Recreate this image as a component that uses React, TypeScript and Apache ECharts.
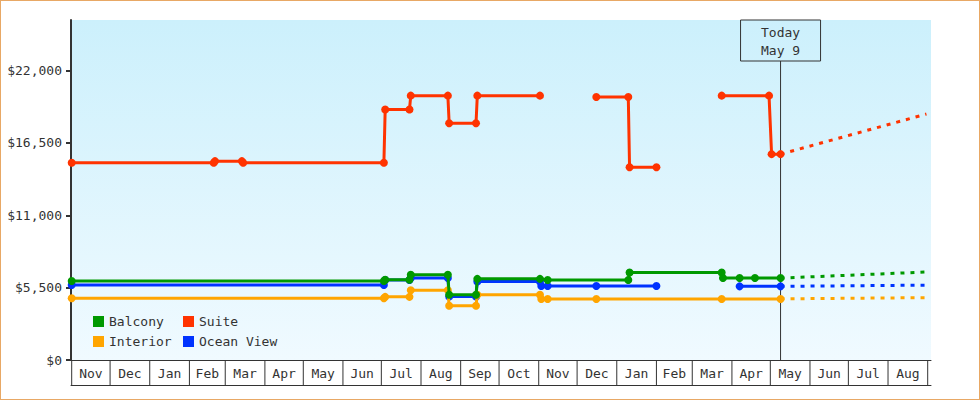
import React, { useEffect, useRef } from 'react';
import * as echarts from 'echarts';

const FONT = 'DejaVu Sans Mono';
const TEXT_COLOR = '#333333';

// ---- axis data ----
const monthStarts = [
  '2013-11-01', '2013-12-01', '2014-01-01', '2014-02-01', '2014-03-01', '2014-04-01',
  '2014-05-01', '2014-06-01', '2014-07-01', '2014-08-01', '2014-09-01', '2014-10-01',
  '2014-11-01', '2014-12-01', '2015-01-01', '2015-02-01', '2015-03-01', '2015-04-01',
  '2015-05-01', '2015-06-01', '2015-07-01', '2015-08-01', '2015-09-01',
];
const monthLabels = [
  'Nov', 'Dec', 'Jan', 'Feb', 'Mar', 'Apr', 'May', 'Jun', 'Jul', 'Aug', 'Sep',
  'Oct', 'Nov', 'Dec', 'Jan', 'Feb', 'Mar', 'Apr', 'May', 'Jun', 'Jul', 'Aug',
];
const yTicks = [0, 5500, 11000, 16500, 22000];
const yMax = 25850;
const todayDate = '2015-05-09';
const todayLabel = 'Today\nMay 9';

// ---- series data (null = gap) ----
const suitePrices: [string, number | null][] = [
  ['2013-11-01', 15000], ['2014-02-20', 15000], ['2014-02-21', 15120], ['2014-03-14', 15120],
  ['2014-03-15', 15000], ['2014-07-03', 15000], ['2014-07-04', 19050], ['2014-07-23', 19050],
  ['2014-07-24', 20100], ['2014-08-22', 20100], ['2014-08-23', 18000], ['2014-09-13', 18000],
  ['2014-09-14', 20100], ['2014-11-02', 20100], ['2014-11-20', null],
  ['2014-12-16', 20000], ['2015-01-10', 20000], ['2015-01-11', 14650], ['2015-02-01', 14650],
  ['2015-03-01', null],
  ['2015-03-24', 20100], ['2015-04-30', 20100], ['2015-05-02', 15650], ['2015-05-09', 15650],
];
const balconyPrices: [string, number | null][] = [
  ['2013-11-01', 6000], ['2014-07-03', 6000], ['2014-07-04', 6100], ['2014-07-23', 6100],
  ['2014-07-24', 6480], ['2014-08-22', 6480], ['2014-08-23', 4960], ['2014-09-13', 4960],
  ['2014-09-14', 6170], ['2014-11-02', 6170], ['2014-11-08', 6080], ['2015-01-10', 6080],
  ['2015-01-11', 6650], ['2015-03-24', 6650], ['2015-03-25', 6230], ['2015-04-07', 6230],
  ['2015-04-19', 6230], ['2015-05-09', 6230],
];
const oceanViewPrices: [string, number | null][] = [
  ['2013-11-01', 5700], ['2014-07-03', 5700], ['2014-07-04', 6080], ['2014-07-23', 6080],
  ['2014-07-24', 6230], ['2014-08-22', 6230], ['2014-08-23', 4830], ['2014-09-13', 4830],
  ['2014-09-14', 5970], ['2014-11-02', 5970], ['2014-11-03', 5620], ['2014-11-08', 5620],
  ['2014-12-16', 5620], ['2015-02-01', 5620], ['2015-03-01', null],
  ['2015-04-07', 5600], ['2015-05-09', 5600],
];
const interiorPrices: [string, number | null][] = [
  ['2013-11-01', 4700], ['2014-07-03', 4700], ['2014-07-04', 4800], ['2014-07-23', 4800],
  ['2014-07-24', 5300], ['2014-08-22', 5300], ['2014-08-23', 4120], ['2014-09-13', 4120],
  ['2014-09-14', 4960], ['2014-11-02', 4960], ['2014-11-03', 4640], ['2014-11-08', 4640],
  ['2014-12-16', 4640], ['2015-03-24', 4640], ['2015-05-09', 4640],
];

// ---- forecasts ----
const suiteForecast: [string, number][] = [['2015-05-09', 15650], ['2015-08-31', 18700]];
const balconyForecast: [string, number][] = [['2015-05-09', 6230], ['2015-08-31', 6690]];
const oceanViewForecast: [string, number][] = [['2015-05-09', 5600], ['2015-08-31', 5690]];
const interiorForecast: [string, number][] = [['2015-05-09', 4650], ['2015-08-31', 4740]];

const COLORS = {
  Suite: '#ff3300',
  Balcony: '#009900',
  'Ocean View': '#0033ff',
  Interior: '#ffa500',
};

function ts(s: string): number {
  const [y, m, d] = s.split('-').map(Number);
  return new Date(y, m - 1, d).getTime();
}
function toData(rows: [string, number | null][]) {
  return rows.map(([d, v]) => [ts(d), v === null ? '-' : v]);
}
function fmtMoney(v: number) {
  return '$' + v.toLocaleString('en-US');
}

const xMin = new Date(2013, 9, 31, 11).getTime();
const xMax = new Date(2015, 8, 3, 14).getTime();

const monthBoxes = monthLabels.map((_, i) => [ts(monthStarts[i]), ts(monthStarts[i + 1])]);

function lineSeries(name: string, rows: [string, number | null][], z: number) {
  const color = (COLORS as any)[name];
  return {
    name,
    type: 'line',
    data: toData(rows),
    symbol: 'circle',
    symbolSize: 8,
    showSymbol: true,
    showAllSymbol: true,
    connectNulls: false,
    lineStyle: { width: 3, color },
    itemStyle: { color },
    emphasis: { disabled: true },
    z,
  };
}
function forecastSeries(name: string, rows: [string, number][], z: number) {
  const color = (COLORS as any)[name];
  return {
    name: name + ' forecast',
    type: 'line',
    data: rows.map(([d, v]) => [ts(d), v]),
    symbol: 'none',
    lineStyle: { width: 3, color, type: [4, 6] },
    itemStyle: { color },
    emphasis: { disabled: true },
    z,
  };
}

export default function App() {
  const ref = useRef<HTMLDivElement>(null);
  useEffect(() => {
    const chart = echarts.init(ref.current!, null, { renderer: 'svg' });
    const legendCommon = {
      orient: 'vertical',
      top: 310,
      itemWidth: 11,
      itemHeight: 11,
      itemGap: 7,
      icon: 'rect',
      selectedMode: false,
      textStyle: { fontFamily: FONT, fontSize: 13, color: TEXT_COLOR },
    };
    const option = {
      animation: false,
      grid: {
        left: 71,
        top: 20,
        width: 860,
        height: 340,
        show: true,
        borderWidth: 0,
        backgroundColor: {
          type: 'linear', x: 0, y: 0, x2: 0, y2: 1,
          colorStops: [
            { offset: 0, color: '#ccf0fc' },
            { offset: 1, color: '#f0faff' },
          ],
        },
      },
      legend: [
        { ...legendCommon, data: ['Balcony', 'Interior'], left: 88 },
        { ...legendCommon, data: ['Suite', 'Ocean View'], left: 178 },
      ],
      xAxis: [
        {
          type: 'time',
          min: xMin,
          max: xMax,
          axisLine: { show: true, lineStyle: { color: TEXT_COLOR, width: 1 } },
          axisTick: { show: false },
          axisLabel: { show: false },
          splitLine: { show: false },
        },
        {
          type: 'time',
          min: xMin,
          max: xMax,
          position: 'bottom',
          offset: 25,
          axisLine: { show: true, lineStyle: { color: TEXT_COLOR, width: 1 } },
          axisTick: { show: false },
          axisLabel: { show: false },
          splitLine: { show: false },
        },
      ],
      yAxis: {
        type: 'value',
        min: 0,
        max: yMax,
        axisLine: { show: true, lineStyle: { color: TEXT_COLOR, width: 2 } },
        axisTick: { show: true, length: 5, lineStyle: { color: TEXT_COLOR, width: 2 }, customValues: yTicks },
        axisLabel: {
          customValues: yTicks,
          formatter: (v: number) => fmtMoney(v),
          fontFamily: FONT,
          fontSize: 13,
          color: TEXT_COLOR,
          margin: 9,
        },
        splitLine: { show: false },
      },
      series: [
        {
          name: 'months',
          type: 'custom',
          silent: true,
          clip: false,
          data: monthBoxes,
          encode: { x: [0, 1] },
          renderItem: (params: any, api: any) => {
            const s = api.coord([api.value(0), 0]);
            const e = api.coord([api.value(1), 0]);
            const children: any[] = [
              { type: 'line', shape: { x1: s[0], y1: s[1], x2: s[0], y2: s[1] + 25 }, style: { stroke: TEXT_COLOR, lineWidth: 1 } },
              {
                type: 'text',
                x: (s[0] + e[0]) / 2,
                y: s[1] + 13,
                style: { text: monthLabels[params.dataIndex], align: 'center', verticalAlign: 'middle', fontFamily: FONT, fontSize: 13, fill: TEXT_COLOR },
              },
            ];
            if (params.dataIndex === monthBoxes.length - 1) {
              children.push({ type: 'line', shape: { x1: e[0], y1: e[1], x2: e[0], y2: e[1] + 25 }, style: { stroke: TEXT_COLOR, lineWidth: 1 } });
            }
            return { type: 'group', children };
          },
          z: 1,
        },
        {
          name: 'today',
          type: 'custom',
          silent: true,
          clip: false,
          data: [[ts(todayDate)]],
          encode: { x: 0 },
          renderItem: (params: any, api: any) => {
            const b = api.coord([api.value(0), 0]);
            const t = api.coord([api.value(0), yMax]);
            const x = b[0];
            const boxH = 41;
            return {
              type: 'group',
              children: [
                { type: 'rect', shape: { x: x - 40, y: t[1], width: 80, height: boxH }, style: { fill: 'none', stroke: TEXT_COLOR, lineWidth: 1 } },
                { type: 'line', shape: { x1: x, y1: t[1] + boxH, x2: x, y2: b[1] }, style: { stroke: TEXT_COLOR, lineWidth: 1 } },
                {
                  type: 'text',
                  x,
                  y: t[1] + boxH / 2 + 1,
                  style: { text: todayLabel, align: 'center', verticalAlign: 'middle', fontFamily: FONT, fontSize: 13, lineHeight: 18, fill: TEXT_COLOR },
                },
              ],
            };
          },
          z: 1,
        },
        lineSeries('Ocean View', oceanViewPrices, 2),
        lineSeries('Interior', interiorPrices, 3),
        lineSeries('Balcony', balconyPrices, 4),
        lineSeries('Suite', suitePrices, 5),
        forecastSeries('Ocean View', oceanViewForecast, 2),
        forecastSeries('Interior', interiorForecast, 3),
        forecastSeries('Balcony', balconyForecast, 4),
        forecastSeries('Suite', suiteForecast, 5),
      ],
    };
    chart.setOption(option as any);
    return () => chart.dispose();
  }, []);
  return (
    <div style={{ position: 'absolute', left: 0, top: 0, width: 980, height: 400, background: '#ffffff' }}>
      <div ref={ref} style={{ width: 980, height: 400 }} />
      <div
        style={{
          position: 'absolute', left: 0, top: 0, width: 980, height: 400,
          boxSizing: 'border-box', border: '1px solid #e8a865', pointerEvents: 'none',
        }}
      />
    </div>
  );
}
